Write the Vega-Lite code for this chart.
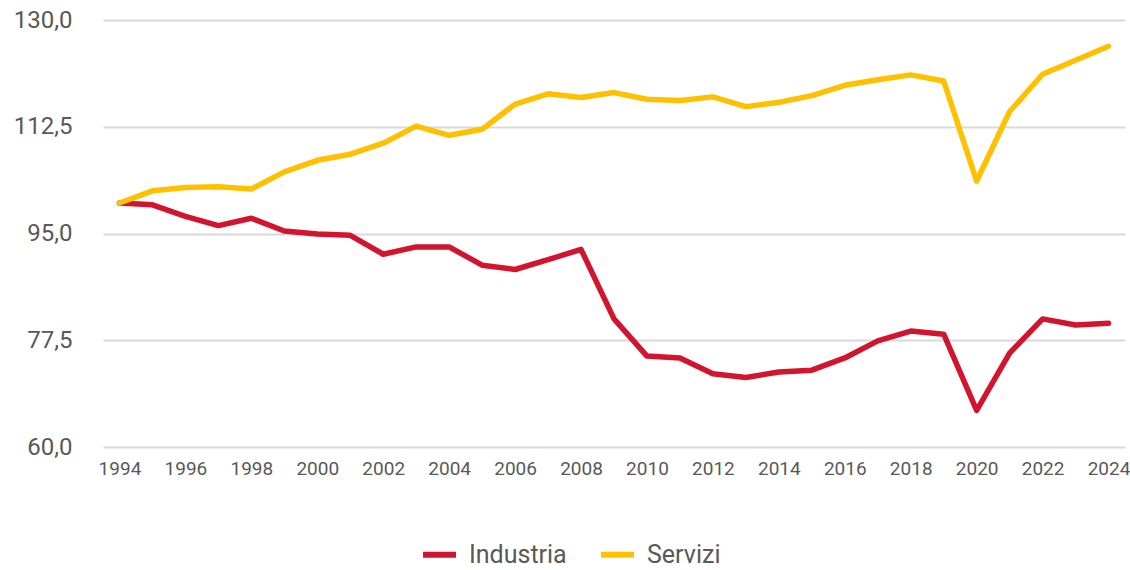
{
  "$schema": "https://vega.github.io/schema/vega-lite/v6.json",
  "autosize": {"type": "none"},
  "width": 1022,
  "height": 427,
  "padding": {"left": 103, "top": 20, "right": 5, "bottom": 123},
  "background": "white",
  "config": {
    "view": {"stroke": null},
    "font": "Roboto"
  },
  "data": {
    "values": [
      {"anno": 1994, "settore": "Industria", "valore": 100.0},
      {"anno": 1995, "settore": "Industria", "valore": 99.7},
      {"anno": 1996, "settore": "Industria", "valore": 97.8},
      {"anno": 1997, "settore": "Industria", "valore": 96.3},
      {"anno": 1998, "settore": "Industria", "valore": 97.5},
      {"anno": 1999, "settore": "Industria", "valore": 95.4},
      {"anno": 2000, "settore": "Industria", "valore": 94.9},
      {"anno": 2001, "settore": "Industria", "valore": 94.7},
      {"anno": 2002, "settore": "Industria", "valore": 91.6},
      {"anno": 2003, "settore": "Industria", "valore": 92.8},
      {"anno": 2004, "settore": "Industria", "valore": 92.8},
      {"anno": 2005, "settore": "Industria", "valore": 89.8},
      {"anno": 2006, "settore": "Industria", "valore": 89.1},
      {"anno": 2007, "settore": "Industria", "valore": 90.7},
      {"anno": 2008, "settore": "Industria", "valore": 92.4},
      {"anno": 2009, "settore": "Industria", "valore": 81.0},
      {"anno": 2010, "settore": "Industria", "valore": 74.9},
      {"anno": 2011, "settore": "Industria", "valore": 74.6},
      {"anno": 2012, "settore": "Industria", "valore": 72.0},
      {"anno": 2013, "settore": "Industria", "valore": 71.4},
      {"anno": 2014, "settore": "Industria", "valore": 72.3},
      {"anno": 2015, "settore": "Industria", "valore": 72.6},
      {"anno": 2016, "settore": "Industria", "valore": 74.6},
      {"anno": 2017, "settore": "Industria", "valore": 77.4},
      {"anno": 2018, "settore": "Industria", "valore": 79.0},
      {"anno": 2019, "settore": "Industria", "valore": 78.5},
      {"anno": 2020, "settore": "Industria", "valore": 66.0},
      {"anno": 2021, "settore": "Industria", "valore": 75.4},
      {"anno": 2022, "settore": "Industria", "valore": 81.0},
      {"anno": 2023, "settore": "Industria", "valore": 80.0},
      {"anno": 2024, "settore": "Industria", "valore": 80.3},
      {"anno": 1994, "settore": "Servizi", "valore": 100.0},
      {"anno": 1995, "settore": "Servizi", "valore": 102.0},
      {"anno": 1996, "settore": "Servizi", "valore": 102.55},
      {"anno": 1997, "settore": "Servizi", "valore": 102.65},
      {"anno": 1998, "settore": "Servizi", "valore": 102.3},
      {"anno": 1999, "settore": "Servizi", "valore": 105.1},
      {"anno": 2000, "settore": "Servizi", "valore": 107.0},
      {"anno": 2001, "settore": "Servizi", "valore": 108.0},
      {"anno": 2002, "settore": "Servizi", "valore": 109.8},
      {"anno": 2003, "settore": "Servizi", "valore": 112.6},
      {"anno": 2004, "settore": "Servizi", "valore": 111.1},
      {"anno": 2005, "settore": "Servizi", "valore": 112.1},
      {"anno": 2006, "settore": "Servizi", "valore": 116.2},
      {"anno": 2007, "settore": "Servizi", "valore": 117.9},
      {"anno": 2008, "settore": "Servizi", "valore": 117.3},
      {"anno": 2009, "settore": "Servizi", "valore": 118.1},
      {"anno": 2010, "settore": "Servizi", "valore": 117.0},
      {"anno": 2011, "settore": "Servizi", "valore": 116.8},
      {"anno": 2012, "settore": "Servizi", "valore": 117.4},
      {"anno": 2013, "settore": "Servizi", "valore": 115.8},
      {"anno": 2014, "settore": "Servizi", "valore": 116.5},
      {"anno": 2015, "settore": "Servizi", "valore": 117.6},
      {"anno": 2016, "settore": "Servizi", "valore": 119.3},
      {"anno": 2017, "settore": "Servizi", "valore": 120.2},
      {"anno": 2018, "settore": "Servizi", "valore": 121.0},
      {"anno": 2019, "settore": "Servizi", "valore": 120.0},
      {"anno": 2020, "settore": "Servizi", "valore": 103.6},
      {"anno": 2021, "settore": "Servizi", "valore": 115.0},
      {"anno": 2022, "settore": "Servizi", "valore": 121.1},
      {"anno": 2023, "settore": "Servizi", "valore": 123.4},
      {"anno": 2024, "settore": "Servizi", "valore": 125.7}
    ]
  },
  "mark": {"type": "line", "strokeWidth": 5.5, "strokeCap": "round", "strokeJoin": "round"},
  "encoding": {
    "x": {
      "field": "anno",
      "type": "quantitative",
      "scale": {"domain": [1993.5, 2024.5], "nice": false, "zero": false},
      "axis": {
        "title": null,
        "values": [1994, 1996, 1998, 2000, 2002, 2004, 2006, 2008, 2010, 2012, 2014, 2016, 2018, 2020, 2022, 2024],
        "format": "d",
        "grid": false,
        "domain": false,
        "ticks": false,
        "labelFont": "Roboto",
        "labelFontSize": 19,
        "labelColor": "#595959",
        "labelPadding": 12,
        "labelOverlap": false
      }
    },
    "y": {
      "field": "valore",
      "type": "quantitative",
      "scale": {"domain": [60, 130], "nice": false, "zero": false},
      "axis": {
        "title": null,
        "values": [60, 77.5, 95, 112.5, 130],
        "labelExpr": "replace(format(datum.value, '.1f'), '.', ',')",
        "grid": true,
        "gridColor": "#d9d9d9",
        "gridWidth": 2,
        "domain": false,
        "ticks": false,
        "labelFont": "Roboto",
        "labelFontSize": 24,
        "labelColor": "#595959",
        "labelPadding": 31
      }
    },
    "color": {
      "field": "settore",
      "type": "nominal",
      "scale": {"domain": ["Industria", "Servizi"], "range": ["#D2152E", "#FFC000"]},
      "legend": {
        "title": null,
        "orient": "none",
        "direction": "horizontal",
        "legendX": 317,
        "legendY": 515,
        "symbolType": "stroke",
        "symbolSize": 1089,
        "symbolStrokeWidth": 6,
        "labelFont": "Roboto",
        "labelFontSize": 25,
        "labelColor": "#595959",
        "labelOffset": 10,
        "columnPadding": 22
      }
    }
  }
}
